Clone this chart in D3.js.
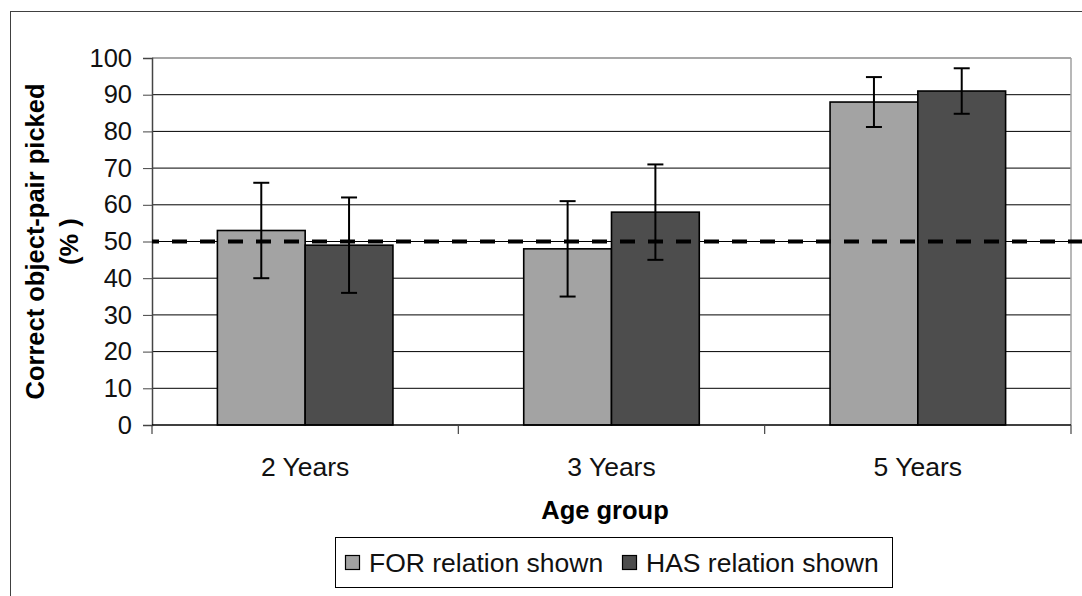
<!DOCTYPE html>
<html>
<head>
<meta charset="utf-8">
<script src="https://cdn.jsdelivr.net/npm/d3@7"></script>
<style>
  html, body { margin: 0; padding: 0; background: #fff; }
  svg { display: block; font-family: "Liberation Sans", Arial, sans-serif; }
</style>
</head>
<body>
<svg id="chart" width="1082" height="596"></svg>
<script>
const categories = ["2 Years", "3 Years", "5 Years"];
const seriesNames = ["FOR relation shown", "HAS relation shown"];
const forValues = [53, 48, 88];
const hasValues = [49, 58, 91];
const forErrors = [13, 13, 6.8];
const hasErrors = [13, 13, 6.2];
const yTickValues = [0, 10, 20, 30, 40, 50, 60, 70, 80, 90, 100];
const chanceLevel = 50;
const yTitleLines = ["Correct object-pair picked", "(% )"];
const xTitle = "Age group";

const colors = { "FOR relation shown": "#a3a3a3", "HAS relation shown": "#4d4d4d" };

const data = categories.map((c, i) => ({
  category: c,
  bars: [
    { name: seriesNames[0], value: forValues[i], err: forErrors[i] },
    { name: seriesNames[1], value: hasValues[i], err: hasErrors[i] }
  ]
}));

const svg = d3.select("#chart");
const W = 1082, H = 596;
const plot = { left: 152, right: 1071, top: 58, bottom: 425 };

// outer chart border
svg.append("rect").attr("x", 10.5).attr("y", 11.5).attr("width", W + 20).attr("height", H + 20)
  .attr("fill", "#fff").attr("stroke", "#404040").attr("stroke-width", 1);

const x0 = d3.scaleBand().domain(categories).range([plot.left, plot.right]).padding(0);
const groupW = x0.bandwidth() / 1.745;
const x1 = d3.scaleBand().domain(seriesNames)
  .range([(x0.bandwidth() - groupW) / 2, (x0.bandwidth() + groupW) / 2]).padding(0);
const y = d3.scaleLinear().domain([0, 100]).range([plot.bottom, plot.top]);

// gridlines
svg.append("g").selectAll("line").data(yTickValues.filter(v => v > 0 && v < 100)).join("line")
  .attr("x1", plot.left).attr("x2", plot.right)
  .attr("y1", d => y(d)).attr("y2", d => y(d))
  .attr("stroke", "#000").attr("stroke-width", 1);

// plot border top / right
svg.append("line").attr("x1", plot.left).attr("x2", plot.right).attr("y1", y(100)).attr("y2", y(100))
  .attr("stroke", "#8a8a8a").attr("stroke-width", 1.5);
svg.append("line").attr("x1", plot.right).attr("x2", plot.right).attr("y1", plot.top).attr("y2", plot.bottom)
  .attr("stroke", "#a0a0a0").attr("stroke-width", 1.5);

// Y axis
const yAxis = d3.axisLeft(y).tickValues(yTickValues).tickSize(9).tickPadding(11).tickFormat(d3.format("d"));
const gy = svg.append("g").attr("transform", `translate(${plot.left},0)`).call(yAxis);
gy.select(".domain").attr("stroke", "#444").attr("stroke-width", 1.5);
gy.selectAll(".tick line").attr("stroke", "#444").attr("stroke-width", 1);
gy.selectAll(".tick text").attr("font-size", 25.5).attr("fill", "#111")
  .attr("font-family", "'Liberation Sans', Arial, sans-serif");

// bars
const groups = svg.append("g").selectAll("g").data(data).join("g")
  .attr("transform", d => `translate(${x0(d.category)},0)`);
groups.selectAll("rect").data(d => d.bars).join("rect")
  .attr("x", d => x1(d.name)).attr("width", x1.bandwidth())
  .attr("y", d => y(d.value)).attr("height", d => y(0) - y(d.value))
  .attr("fill", d => colors[d.name]).attr("stroke", "#000").attr("stroke-width", 1.6);

// X axis
const xAxisG = svg.append("g").attr("transform", `translate(0,${plot.bottom})`);
xAxisG.append("line").attr("x1", plot.left).attr("x2", plot.right).attr("y1", 0).attr("y2", 0)
  .attr("stroke", "#000").attr("stroke-width", 1.5);
const boundaries = categories.map(c => x0(c)).concat([x0(categories[categories.length - 1]) + x0.bandwidth()]);
xAxisG.selectAll("line.tk").data(boundaries).join("line").attr("class", "tk")
  .attr("x1", d => d).attr("x2", d => d).attr("y1", 0).attr("y2", 9)
  .attr("stroke", "#444").attr("stroke-width", 1.2);
xAxisG.selectAll("text").data(categories).join("text")
  .attr("x", d => x0(d) + x0.bandwidth() / 2).attr("y", 51)
  .attr("text-anchor", "middle").attr("font-size", 26.5).attr("fill", "#111").text(d => d);

// dashed chance line
svg.append("line").attr("x1", plot.left).attr("x2", W).attr("y1", y(chanceLevel)).attr("y2", y(chanceLevel))
  .attr("stroke", "#000").attr("stroke-width", 4)
  .attr("stroke-dasharray", "15,13").attr("stroke-dashoffset", 8);

// error bars
const eb = groups.selectAll("g.eb").data(d => d.bars).join("g").attr("class", "eb");
const cap = 8;
eb.append("line")
  .attr("x1", d => x1(d.name) + x1.bandwidth() / 2).attr("x2", d => x1(d.name) + x1.bandwidth() / 2)
  .attr("y1", d => y(d.value + d.err)).attr("y2", d => y(d.value - d.err))
  .attr("stroke", "#000").attr("stroke-width", 2);
eb.append("line")
  .attr("x1", d => x1(d.name) + x1.bandwidth() / 2 - cap).attr("x2", d => x1(d.name) + x1.bandwidth() / 2 + cap)
  .attr("y1", d => y(d.value + d.err)).attr("y2", d => y(d.value + d.err))
  .attr("stroke", "#000").attr("stroke-width", 2);
eb.append("line")
  .attr("x1", d => x1(d.name) + x1.bandwidth() / 2 - cap).attr("x2", d => x1(d.name) + x1.bandwidth() / 2 + cap)
  .attr("y1", d => y(d.value - d.err)).attr("y2", d => y(d.value - d.err))
  .attr("stroke", "#000").attr("stroke-width", 2);

// axis titles
svg.append("text").attr("x", 605).attr("y", 519)
  .attr("text-anchor", "middle").attr("font-size", 25.5).attr("font-weight", "bold").attr("fill", "#000")
  .text(xTitle);
const yt = svg.append("text").attr("transform", `translate(44,${(plot.top + plot.bottom) / 2}) rotate(-90)`)
  .attr("text-anchor", "middle").attr("font-size", 25.5).attr("font-weight", "bold").attr("fill", "#000");
yTitleLines.forEach((t, i) => yt.append("tspan").attr("x", 0).attr("y", i * 34).text(t));

// legend
const lg = svg.append("g");
lg.append("rect").attr("x", 335.5).attr("y", 537.5).attr("width", 557).attr("height", 50)
  .attr("fill", "#fff").attr("stroke", "#000").attr("stroke-width", 1);
const legendX = [345, 622];
const li = lg.selectAll("g").data(seriesNames).join("g")
  .attr("transform", (d, i) => `translate(${legendX[i]},0)`);
li.append("rect").attr("x", 0.5).attr("y", 555.5).attr("width", 14).attr("height", 14)
  .attr("fill", d => colors[d]).attr("stroke", "#000").attr("stroke-width", 1.2);
li.append("text").attr("x", 24).attr("y", 572).attr("font-size", 26.5).attr("fill", "#111").text(d => d);
</script>
</body>
</html>
